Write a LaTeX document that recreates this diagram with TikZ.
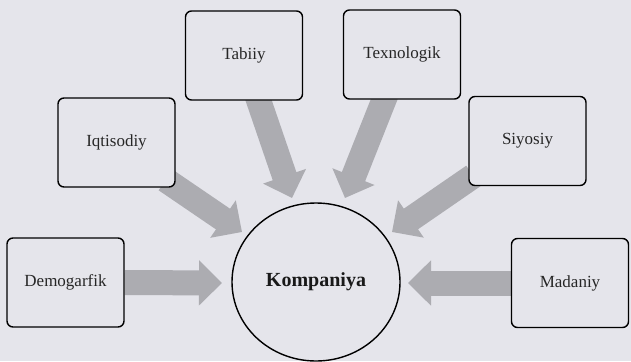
\documentclass[tikz,border=0pt]{standalone}
\usepackage{fontspec}
\setmainfont{Liberation Serif}
\usetikzlibrary{arrows.meta,calc,shapes.geometric}
\definecolor{bgc}{RGB}{229,229,235}
\definecolor{arr}{RGB}{172,172,177}
\pgfdeclarelayer{bgl}
\pgfdeclarelayer{back}
\pgfsetlayers{bgl,back,main}
\begin{document}
\begin{tikzpicture}[x=1pt,y=-1pt,
  box/.style={draw=black, line width=1.4pt, rounded corners=6pt, fill=bgc,
    minimum width=117pt, minimum height=89pt, inner sep=0pt,
    font=\fontsize{17}{20}\selectfont, text=black!85},
  hub/.style={draw=black, line width=1.4pt, ellipse, fill=bgc, inner sep=0pt,
    minimum width=168pt, minimum height=158pt,
    font=\fontsize{20}{24}\selectfont\bfseries, text=black!90},
  fat/.style={draw=arr, line width=25pt, -{Triangle[width=44pt,length=23pt]}}]
\begin{pgfonlayer}{bgl}
\fill[bgc] (0,0) rectangle (631,361);
\end{pgfonlayer}
\useasboundingbox (0,0) rectangle (631,361);
% nodes
\node[box] (dem) at (65.5,282.5) {Demogarfik};
\node[box] (iqt) at (116.5,142.5) {Iqtisodiy};
\node[box] (tab) at (244,55.5) {Tabiiy};
\node[box] (tex) at (402,54.5) {Texnologik};
\node[box] (siy) at (527.5,141) {Siyosiy};
\node[box] (mad) at (570,283) {Madaniy};
\node[hub] (komp) at (316,282) {Kompaniya};
% arrow tips
\coordinate (tDem) at (222,283);
\coordinate (tIqt) at (242,232);
\coordinate (tTab) at (292,198);
\coordinate (tTex) at (345,198);
\coordinate (tSiy) at (392,232);
\coordinate (tMad) at (408,283);
\begin{pgfonlayer}{back}
\draw[fat] (dem.east) -- (tDem);
\draw[fat] (mad.west) -- (tMad);
\draw[fat] ($(iqt.east)+(-10,37.5)$) -- (tIqt);
\draw[fat] ($(tab.south)+(13,-5)$) -- (tTab);
\draw[fat] ($(tex.south)+(-16,-5)$) -- (tTex);
\draw[fat] ($(siy.west)+(5,35)$) -- (tSiy);
\end{pgfonlayer}
\end{tikzpicture}
\end{document}
